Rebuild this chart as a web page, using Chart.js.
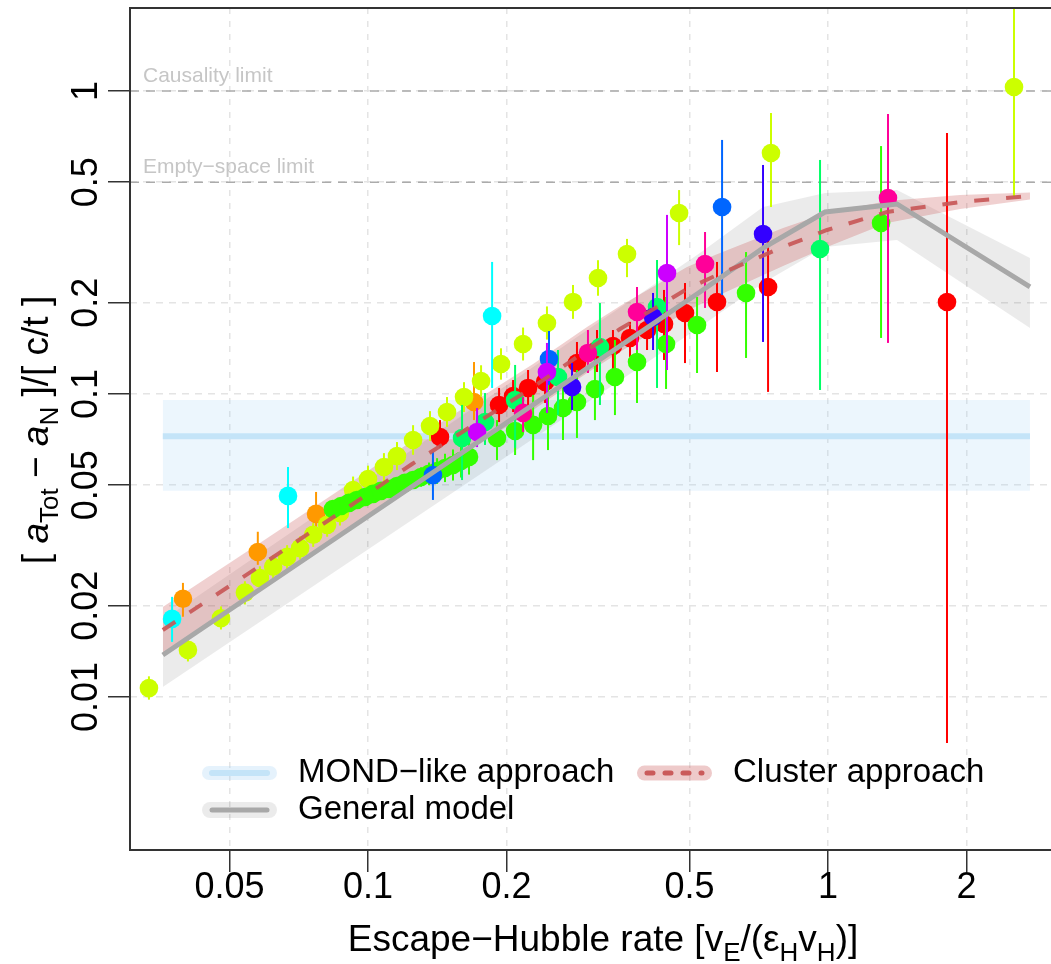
<!DOCTYPE html>
<html>
<head>
<meta charset="utf-8">
<script src="https://cdn.jsdelivr.net/npm/chart.js@4.4.1/dist/chart.umd.min.js"></script>
<style>
  html, body { margin: 0; padding: 0; background: #fff; overflow: hidden; }
  #wrap { width: 1051px; height: 964px; }
</style>
</head>
<body>
<div id="wrap"><canvas id="chart" width="1051" height="964"></canvas></div>
<script>
// Axis ticks
const xTicks = [0.05, 0.1, 0.2, 0.5, 1, 2];
const yTicks = [0.01, 0.02, 0.05, 0.1, 0.2, 0.5, 1];

// General model (grey line + band)
const generalX  = [0.0358, 0.5267, 0.7223, 0.9851, 1.4125, 2.748];
const generalY  = [0.01376, 0.2171, 0.3033, 0.3988, 0.4237, 0.2255];
const generalLo = [0.01079, 0.1664, 0.2324, 0.3055, 0.3224, 0.1651];
const generalHi = [0.01796, 0.2919, 0.4140, 0.4605, 0.4712, 0.2811];

// Cluster approach (red dashed line + band)
const clusterX  = [0.0358, 0.0582, 0.0914, 0.1247, 0.1641, 0.2285, 0.2993, 0.3530, 0.4937, 0.5680, 0.7985, 0.9950, 1.344, 1.936, 2.748];
const clusterY  = [0.01664, 0.02706, 0.04270, 0.05875, 0.07665, 0.1054, 0.1397, 0.1638, 0.2221, 0.2452, 0.3056, 0.3478, 0.3988, 0.4301, 0.4503];
const clusterLo = [0.01397, 0.02272, 0.03585, 0.04933, 0.06435, 0.0886, 0.1173, 0.1376, 0.1878, 0.2089, 0.2645, 0.3056, 0.3667, 0.4080, 0.4385];
const clusterHi = [0.01982, 0.03223, 0.05086, 0.07000, 0.09129, 0.1256, 0.1664, 0.1952, 0.2625, 0.2875, 0.3531, 0.3957, 0.4335, 0.4537, 0.4624];

// MOND-like approach (flat line + band)
const mondX  = [0.0358, 2.748];
const mondY  = [0.0726, 0.0726];
const mondLo = [0.0479, 0.0479];
const mondHi = [0.0955, 0.0955];

// horizontal limits
const limitY = [1, 0.5];
const limitNames = ['Causality limit', 'Empty\u2212space limit'];

// data points: [x, y, errLow, errHigh]
const ptsRed = [
  [0.1434, 0.0721, 0.0664, 0.0820], [0.1927, 0.0920, 0.0808, 0.1047], [0.2067, 0.0985, 0.0872, 0.1112],
  [0.2228, 0.1047, 0.0920, 0.1200], [0.2426, 0.1096, 0.0934, 0.1295], [0.2846, 0.1266, 0.1031, 0.1485],
  [0.3146, 0.1397, 0.1182, 0.1626], [0.3408, 0.1440, 0.1138, 0.1626], [0.3711, 0.1531, 0.1325, 0.1730],
  [0.4042, 0.1626, 0.1397, 0.1893], [0.4400, 0.1702, 0.1295, 0.2205], [0.4888, 0.1851, 0.1265, 0.2324],
  [0.5737, 0.2012, 0.1182, 0.2728], [0.7407, 0.2255, 0.1016, 0.3224], [1.814, 0.2012, 0.00705, 0.7267]
];
const ptsOrange = [
  [0.0396, 0.0211, 0.0184, 0.0238], [0.0576, 0.0301, 0.0273, 0.0351],
  [0.0771, 0.0402, 0.0343, 0.0475], [0.1700, 0.0941, 0.0820, 0.1275]
];
const ptsYellow = [
  [0.0334, 0.0107, 0.0098, 0.0117], [0.0406, 0.0143, 0.0131, 0.0156], [0.0479, 0.0182, 0.0167, 0.0199],
  [0.0540, 0.0221, 0.0202, 0.0241], [0.0582, 0.0247, 0.0226, 0.0270], [0.0622, 0.0269, 0.0246, 0.0294],
  [0.0667, 0.0290, 0.0265, 0.0317], [0.0712, 0.0310, 0.0284, 0.0339], [0.0760, 0.0343, 0.0313, 0.0375],
  [0.0815, 0.0370, 0.0338, 0.0404], [0.0869, 0.0405, 0.0368, 0.0445], [0.0928, 0.0482, 0.0435, 0.0534],
  [0.1000, 0.0524, 0.0473, 0.0580], [0.1083, 0.0574, 0.0516, 0.0638], [0.1156, 0.0624, 0.0561, 0.0694],
  [0.1253, 0.0705, 0.0630, 0.0789], [0.1364, 0.0784, 0.0700, 0.0878], [0.1485, 0.0872, 0.0779, 0.0977],
  [0.1617, 0.0977, 0.0872, 0.1094], [0.1761, 0.1104, 0.0980, 0.1244], [0.1946, 0.1256, 0.1115, 0.1415],
  [0.2173, 0.1462, 0.1290, 0.1657], [0.2449, 0.1715, 0.1512, 0.1945], [0.2790, 0.2013, 0.1770, 0.2290],
  [0.3162, 0.2415, 0.2110, 0.2764], [0.3656, 0.2897, 0.2430, 0.3250], [0.4745, 0.3956, 0.3100, 0.4710],
  [0.7516, 0.6241, 0.4140, 0.8460], [2.537, 1.031, 0.447, 2.40]
];
const ptsGreen = [
  [0.0839, 0.0417, 0.0405, 0.0430], [0.0874, 0.0427, 0.0413, 0.0441], [0.0909, 0.0437, 0.0422, 0.0452],
  [0.0946, 0.0447, 0.0431, 0.0463], [0.0985, 0.0457, 0.0440, 0.0475], [0.1025, 0.0468, 0.0449, 0.0487],
  [0.1067, 0.0479, 0.0458, 0.0500], [0.1111, 0.0486, 0.0463, 0.0510], [0.1156, 0.0497, 0.0471, 0.0525],
  [0.1203, 0.0509, 0.0480, 0.0540], [0.1253, 0.0520, 0.0486, 0.0556], [0.1304, 0.0532, 0.0494, 0.0573],
  [0.1357, 0.0545, 0.0500, 0.0594], [0.1413, 0.0557, 0.0505, 0.0614], [0.1470, 0.0570, 0.0512, 0.0635],
  [0.1530, 0.0583, 0.0518, 0.0656], [0.1593, 0.0601, 0.0530, 0.0681], [0.1658, 0.0620, 0.0542, 0.0709],
  [0.1907, 0.0716, 0.0605, 0.0820], [0.2088, 0.0755, 0.0629, 0.0886], [0.2285, 0.0791, 0.0605, 0.0993],
  [0.2462, 0.0846, 0.0653, 0.1071], [0.2654, 0.0899, 0.0705, 0.1156], [0.2846, 0.0941, 0.0716, 0.1200],
  [0.3114, 0.1039, 0.0820, 0.1365], [0.3442, 0.1138, 0.0852, 0.1508], [0.3844, 0.1275, 0.0934, 0.1665],
  [0.4445, 0.1462, 0.1039, 0.2090], [0.5191, 0.1689, 0.1173, 0.2090], [0.6634, 0.2155, 0.1315, 0.2941],
  [1.304, 0.3667, 0.1531, 0.658]
];
const ptsSpring = [
  [0.1601, 0.0716, 0.0520, 0.0920], [0.1796, 0.0808, 0.0679, 0.1007], [0.2088, 0.0955, 0.0664, 0.1247],
  [0.2588, 0.1138, 0.0852, 0.1397], [0.3193, 0.1429, 0.0920, 0.1996], [0.4249, 0.1937, 0.1047, 0.2768],
  [0.9608, 0.3010, 0.1031, 0.5921]
];
const ptsCyan = [
  [0.0375, 0.0181, 0.0152, 0.0214], [0.0670, 0.0461, 0.0361, 0.0574], [0.1861, 0.1809, 0.1047, 0.2728]
];
const ptsBlue = [
  [0.1384, 0.0540, 0.0447, 0.0644], [0.2474, 0.1305, 0.1071, 0.1614], [0.5884, 0.4140, 0.2122, 0.6894]
];
const ptsIndigo = [
  [0.2777, 0.1055, 0.0886, 0.1266], [0.4165, 0.1795, 0.1397, 0.2155], [0.7223, 0.3374, 0.1485, 0.5700]
];
const ptsPurple = [
  [0.1726, 0.0749, 0.0668, 0.0899], [0.2449, 0.1182, 0.0866, 0.1474], [0.4467, 0.2508, 0.1200, 0.3900]
];
const ptsPink = [
  [0.2173, 0.0866, 0.0749, 0.0977], [0.3007, 0.1366, 0.1173, 0.1626], [0.3844, 0.1865, 0.1397, 0.2255],
  [0.5403, 0.2686, 0.1923, 0.3425], [1.350, 0.4433, 0.1474, 0.8397]
];

const pointGroups = [ptsRed, ptsOrange, ptsYellow, ptsGreen, ptsSpring, ptsCyan, ptsBlue, ptsIndigo, ptsPurple, ptsPink];
const groupColors = ['#FF0000', '#FF9900', '#CCFF00', '#33FF00', '#00FF66', '#00FFFF', '#0066FF', '#3300FF', '#CC00FF', '#FF0099'];

const FONT = '"Liberation Sans", Arial, Helvetica, sans-serif';
const X_MIN = 0.03038, X_MAX = 3.053;
const Y_MIN = 0.003126, Y_MAX = 1.879;

function xy(xs, ys) {
  return xs.map((x, i) => ({ x: x, y: ys[i] }));
}

function lineSet(data, color, width, dash, order) {
  return {
    type: 'line', data: data, borderColor: color, borderWidth: width, borderDash: dash || [],
    pointRadius: 0, fill: false, tension: 0, order: order, borderCapStyle: 'butt'
  };
}

function bandSets(xs, lo, hi, color, order) {
  return [
    { type: 'line', data: xy(xs, hi), borderWidth: 0, pointRadius: 0, fill: '+1', backgroundColor: color, tension: 0, order: order },
    { type: 'line', data: xy(xs, lo), borderWidth: 0, pointRadius: 0, fill: false, tension: 0, order: order + 1 }
  ];
}

let datasets = [];
// lines on top
datasets.push(lineSet(xy(clusterX, clusterY), 'rgba(200,85,85,0.9)', 4, [15, 17], 0));
datasets.push(lineSet(xy(generalX, generalY), '#a8a8a8', 5, [], 1));
// points (pink on top, red at bottom)
pointGroups.forEach((g, i) => {
  datasets.push({
    type: 'scatter',
    data: g.map(p => ({ x: p[0], y: p[1], lo: p[2], hi: p[3] })),
    backgroundColor: groupColors[i],
    borderWidth: 0,
    pointRadius: 9.3,
    pointHoverRadius: 9.3,
    errorBars: true,
    order: 20 - i
  });
});
datasets.push(lineSet(xy(mondX, mondY), '#c4e4f8', 6, [], 30));
limitY.forEach(v => {
  datasets.push(lineSet([{ x: X_MIN, y: v }, { x: X_MAX, y: v }], '#ababab', 1.6, [9, 7], 31));
});
datasets = datasets.concat(bandSets(clusterX, clusterLo, clusterHi, 'rgba(200,80,80,0.27)', 40));
datasets = datasets.concat(bandSets(generalX, generalLo, generalHi, 'rgba(0,0,0,0.08)', 50));
datasets = datasets.concat(bandSets(mondX, mondLo, mondHi, 'rgba(150,205,245,0.18)', 60));

// error bars below each point group
const errorBars = {
  id: 'errorBars',
  beforeDatasetDraw(chart, args) {
    const ds = chart.data.datasets[args.index];
    if (!ds.errorBars) return;
    const ctx = chart.ctx, ys = chart.scales.y, a = chart.chartArea;
    ctx.save();
    ctx.beginPath();
    ctx.rect(a.left, a.top, a.right - a.left, a.bottom - a.top);
    ctx.clip();
    ctx.strokeStyle = ds.backgroundColor;
    ctx.lineWidth = 2;
    args.meta.data.forEach((pt, i) => {
      const d = ds.data[i];
      ctx.beginPath();
      ctx.moveTo(pt.x, ys.getPixelForValue(d.lo));
      ctx.lineTo(pt.x, ys.getPixelForValue(d.hi));
      ctx.stroke();
    });
    ctx.restore();
  }
};

// text with subscripts, centred on x
function drawRich(ctx, parts, size, x, y) {
  const fontOf = p => (p.it ? 'italic ' : '') + (p.sub ? Math.round(size * 0.7) : size) + 'px ' + FONT;
  let total = 0;
  parts.forEach(p => { ctx.font = fontOf(p); p.w = ctx.measureText(p.t).width; total += p.w; });
  let cx = x - total / 2;
  ctx.textAlign = 'left';
  ctx.textBaseline = 'alphabetic';
  parts.forEach(p => {
    ctx.font = fontOf(p);
    ctx.fillText(p.t, cx, y + (p.sub ? size * 0.28 : 0));
    cx += p.w;
  });
}

function legendSample(ctx, x1, x2, y, bandColor, bandH, lineColor, lineW, dash) {
  ctx.save();
  ctx.lineCap = 'round';
  ctx.strokeStyle = bandColor;
  ctx.lineWidth = bandH;
  ctx.beginPath(); ctx.moveTo(x1 + bandH / 2, y); ctx.lineTo(x2 - bandH / 2, y); ctx.stroke();
  ctx.strokeStyle = lineColor;
  ctx.lineWidth = lineW;
  ctx.setLineDash(dash);
  ctx.beginPath(); ctx.moveTo(x1 + 10, y); ctx.lineTo(x2 - 10, y); ctx.stroke();
  ctx.restore();
}

const decorations = {
  id: 'decorations',
  afterDraw(chart) {
    const ctx = chart.ctx, a = chart.chartArea, ys = chart.scales.y;
    ctx.save();
    // frame
    ctx.strokeStyle = '#333';
    ctx.lineWidth = 2;
    ctx.beginPath();
    ctx.moveTo(a.right + 5, a.top); ctx.lineTo(a.left, a.top); ctx.lineTo(a.left, a.bottom); ctx.lineTo(a.right + 5, a.bottom);
    ctx.stroke();

    // limit labels
    ctx.fillStyle = '#c6c6c6';
    ctx.font = '21px ' + FONT;
    ctx.textAlign = 'left';
    ctx.textBaseline = 'alphabetic';
    limitY.forEach((v, i) => ctx.fillText(limitNames[i], 143, ys.getPixelForValue(v) - 9));

    // legend
    legendSample(ctx, 202, 277, 773, 'rgba(150,205,245,0.25)', 14, '#c4e4f8', 6, []);
    legendSample(ctx, 637, 712, 773, 'rgba(200,80,80,0.3)', 15, 'rgba(200,85,85,0.95)', 5, [6, 12]);
    legendSample(ctx, 202, 277, 810, 'rgba(0,0,0,0.08)', 16, '#a8a8a8', 5, []);
    ctx.fillStyle = '#000';
    ctx.font = '33px ' + FONT;
    ctx.textBaseline = 'middle';
    ctx.fillText('MOND\u2212like approach', 298, 773);
    ctx.fillText('Cluster approach', 733, 773);
    ctx.fillText('General model', 298, 810);

    // x title
    ctx.fillStyle = '#000';
    drawRich(ctx, [
      { t: 'Escape\u2212Hubble rate [v' }, { t: 'E', sub: true }, { t: '/(\u03B5' },
      { t: 'H', sub: true }, { t: 'v' }, { t: 'H', sub: true }, { t: ')]' }
    ], 37, 603, 951);

    // y title
    ctx.translate(48, 430);
    ctx.rotate(-Math.PI / 2);
    drawRich(ctx, [
      { t: '[ ' }, { t: 'a', it: true }, { t: 'Tot', sub: true }, { t: ' \u2212 ' },
      { t: 'a', it: true }, { t: 'N', sub: true }, { t: ' ]/[ c/t ]' }
    ], 37, 0, 0);
    ctx.restore();
  }
};

const axisFont = { family: FONT, size: 36 };

new Chart(document.getElementById('chart').getContext('2d'), {
  type: 'scatter',
  data: { datasets: datasets },
  options: {
    responsive: false,
    animation: false,
    devicePixelRatio: 1,
    layout: { autoPadding: false, padding: { top: 8, left: 0, right: 0, bottom: 0 } },
    plugins: { legend: { display: false }, tooltip: { enabled: false } },
    scales: {
      x: {
        type: 'logarithmic',
        position: 'bottom',
        min: X_MIN,
        max: X_MAX,
        afterBuildTicks: s => { s.ticks = xTicks.map(v => ({ value: v })); },
        afterFit: s => { s.height = 114; s.paddingLeft = 0; s.paddingRight = 0; },
        ticks: { callback: v => String(v), font: axisFont, color: '#000', padding: -6, maxRotation: 0, autoSkip: false },
        grid: { color: '#e4e4e4', lineWidth: 1.5, tickLength: 22, tickColor: '#333', tickWidth: 1.5 },
        border: { display: false, dash: [6, 7] }
      },
      y: {
        type: 'logarithmic',
        position: 'left',
        min: Y_MIN,
        max: Y_MAX,
        afterBuildTicks: s => { s.ticks = yTicks.map(v => ({ value: v })); },
        afterFit: s => { s.width = 130; s.paddingTop = 0; s.paddingBottom = 0; },
        ticks: { callback: v => String(v), font: axisFont, color: '#000', padding: -14, minRotation: 90, maxRotation: 90, crossAlign: 'center', autoSkip: false },
        grid: { color: '#e4e4e4', lineWidth: 1.5, tickLength: 22, tickColor: '#333', tickWidth: 1.5 },
        border: { display: false, dash: [7, 6] }
      }
    }
  },
  plugins: [errorBars, decorations]
});
</script>
</body>
</html>
